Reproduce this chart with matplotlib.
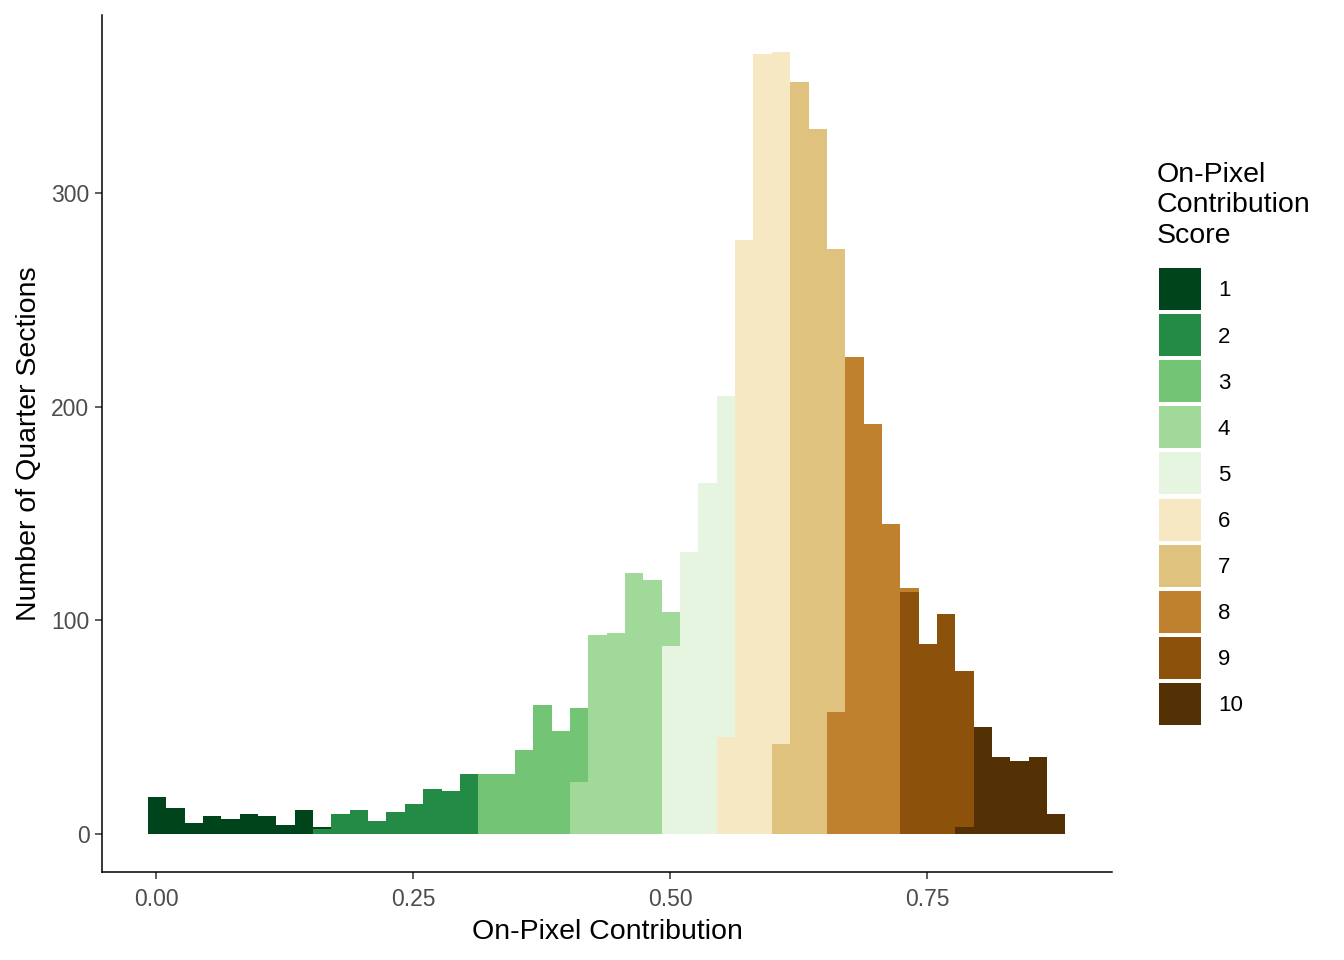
import matplotlib
matplotlib.use("Agg")
import matplotlib.pyplot as plt
from matplotlib.patches import Rectangle
import numpy as np

plt.rcParams['font.family'] = ['Liberation Sans', 'DejaVu Sans']

# Histogram bins
bin_start = -0.0078
bin_width = 0.01785
n_bins = 50

# Counts per score: (first bin index, counts)
score_labels = ["1", "2", "3", "4", "5", "6", "7", "8", "9", "10"]
score_colors = ["#00441B", "#238B45", "#74C476", "#A1D99B", "#E5F5E0",
                "#F6E8C3", "#DFC27D", "#BF812D", "#8C510A", "#543005"]
score1_start, score1 = 0, [17, 12, 5, 8, 7, 9, 8, 4, 11, 1]
score2_start, score2 = 9, [2, 9, 11, 6, 10, 14, 21, 20, 28]
score3_start, score3 = 18, [28, 28, 39, 60, 48, 35]
score4_start, score4 = 23, [24, 93, 94, 122, 119, 16]
score5_start, score5 = 28, [88, 132, 164, 160]
score6_start, score6 = 31, [45, 278, 365, 324]
score7_start, score7 = 34, [42, 352, 330, 217]
score8_start, score8 = 37, [57, 223, 192, 145, 2]
score9_start, score9 = 41, [113, 89, 103, 73]
score10_start, score10 = 44, [3, 50, 36, 34, 36, 9]

x_ticks = [0.00, 0.25, 0.50, 0.75]
x_ticklabels = ["0.00", "0.25", "0.50", "0.75"]
y_ticks = [0, 100, 200, 300]
y_ticklabels = ["0", "100", "200", "300"]

series = [(score1_start, score1), (score2_start, score2), (score3_start, score3),
          (score4_start, score4), (score5_start, score5), (score6_start, score6),
          (score7_start, score7), (score8_start, score8), (score9_start, score9),
          (score10_start, score10)]

W, H = 1344, 960
fig = plt.figure(figsize=(W / 100, H / 100), dpi=100)
ax = fig.add_axes([102 / W, 1 - 872 / H, (1112 - 102) / W, (872 - 15) / H])

edges = bin_start + bin_width * np.arange(n_bins)
bottom = np.zeros(n_bins)
# ggplot stacks first level on top: draw from score 10 upward
for idx in range(len(series) - 1, -1, -1):
    start, counts = series[idx]
    full = np.zeros(n_bins)
    full[start:start + len(counts)] = counts
    mask = full > 0
    ax.bar(edges[mask], full[mask], width=bin_width, bottom=bottom[mask],
           align='edge', color=score_colors[idx], linewidth=0)
    bottom += full

ax.set_xlim(-0.0525, 0.930)
ax.set_ylim(-18.0, 383.4)
ax.set_xticks(x_ticks)
ax.set_xticklabels(x_ticklabels)
ax.set_yticks(y_ticks)
ax.set_yticklabels(y_ticklabels)
for s in ['top', 'right']:
    ax.spines[s].set_visible(False)
for s in ['left', 'bottom']:
    ax.spines[s].set_linewidth(1.1)
    ax.spines[s].set_color('black')
ax.tick_params(axis='both', length=5, width=1.1, color='#333333',
               labelsize=16.5, labelcolor='#4D4D4D', pad=4)
ax.tick_params(axis='x', pad=6.5)
ax.set_xlabel("On-Pixel Contribution", fontsize=20.5, labelpad=6)
ax.set_ylabel("Number of Quarter Sections", fontsize=20.5, labelpad=7)

# Legend (manual, ggplot style)
fig.text(1157 / W, 1 - 162 / H, "On-Pixel\nContribution\nScore", fontsize=20.5,
         va='top', ha='left', linespacing=1.22)
key_w, key_h, key_gap = 42, 42, 46.1
for i, (lab, col) in enumerate(zip(score_labels, score_colors)):
    y_top = 268 + i * key_gap
    fig.add_artist(Rectangle((1159 / W, 1 - (y_top + key_h) / H), key_w / W, key_h / H,
                             transform=fig.transFigure, color=col, linewidth=0))
    fig.text(1218 / W, 1 - (y_top + key_h / 2 + 2) / H, lab, fontsize=16,
             va='center', ha='left')

fig.savefig("out.png", dpi=100)
